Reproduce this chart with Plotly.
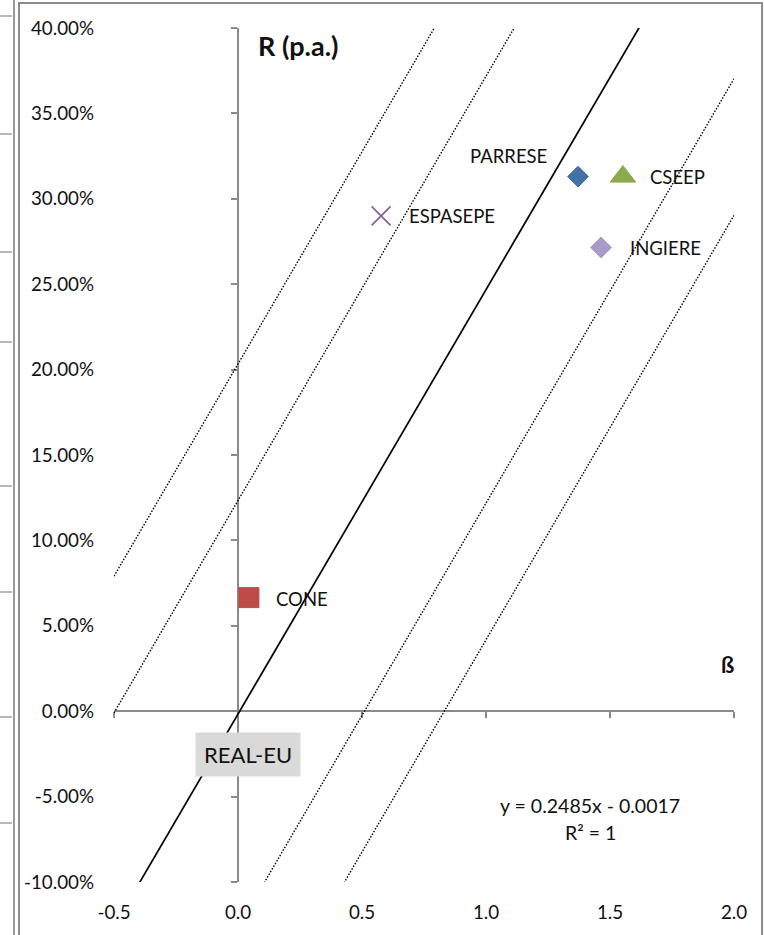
import plotly.graph_objects as go

# ---- data ----
names = ["PARRESE", "CSEEP", "INGIERE", "ESPASEPE", "CONE"]
betas = [1.371, 1.552, 1.464, 0.577, 0.044]
returns = [0.313, 0.313, 0.2715, 0.290, 0.0665]
symbols = ["diamond", "triangle-up", "diamond", "x-thin-open", "square"]
colors = ["#4472A8", "#8DAA4F", "#A99BC6", "#7E62A1", "#BE4B48"]
sizes = [16, 22, 16, 19, 20]
label_anchor = ["right", "left", "left", "left", "left"]
label_dx = [-29, 25, 27, 26, 25]
label_dy = [21, 0, -1, 0, -1]

sml_slope = 0.2485
sml_intercept = -0.0017
sml_beta_range = [-0.4, 1.62]
band_offsets = [0.205, 0.125, -0.125, -0.205]

market_label = "REAL-EU"
market_beta = 0.04
market_return = -0.0251

x_ticks = [-0.5, 0.0, 0.5, 1.0, 1.5, 2.0]
x_tick_labels = ["-0.5", "0.0", "0.5", "1.0", "1.5", "2.0"]
y_ticks = [-0.10, -0.05, 0.0, 0.05, 0.10, 0.15, 0.20, 0.25, 0.30, 0.35, 0.40]
y_tick_labels = ["-10.00%", "-5.00%", "0.00%", "5.00%", "10.00%", "15.00%",
                 "20.00%", "25.00%", "30.00%", "35.00%", "40.00%"]
equation_lines = ["y = 0.2485x - 0.0017", "R² = 1"]

FONT = "Lato"
TXT = "#111111"
x_range = [-0.5, 2.0]
y_range = [-0.10, 0.40]

fig = go.Figure()

# parallel dotted bands
for off in band_offsets:
    xs = list(x_range)
    ys = [sml_slope * b + sml_intercept + off for b in xs]
    fig.add_trace(go.Scatter(x=xs, y=ys, mode="lines",
                             line=dict(color="black", width=1.4, dash="1.5px,1.6px"),
                             hoverinfo="skip", showlegend=False))

# SML
xs = list(sml_beta_range)
fig.add_trace(go.Scatter(x=xs, y=[sml_slope * b + sml_intercept for b in xs],
                         mode="lines", line=dict(color="black", width=1.7),
                         hoverinfo="skip", showlegend=False))

# points
for n, b, r, s, c, sz in zip(names, betas, returns, symbols, colors, sizes):
    lw = 1.7 if s.endswith("open") else 1
    mk = dict(symbol=s, size=sz, color=c, line=dict(color=c, width=lw))
    fig.add_trace(go.Scatter(x=[b], y=[r], mode="markers", marker=mk,
                             name=n, showlegend=False))

# invisible trace to activate the crossing axes
fig.add_trace(go.Scatter(x=[0], y=[0], xaxis="x2", yaxis="y2", mode="markers",
                         marker=dict(opacity=0), hoverinfo="skip", showlegend=False))

annotations = []
for n, b, r, a, dx, dy in zip(names, betas, returns, label_anchor, label_dx, label_dy):
    annotations.append(dict(x=b, y=r, text=n, showarrow=False, xanchor=a,
                            yanchor="middle", xshift=dx, yshift=dy,
                            font=dict(family=FONT, size=18.5, color=TXT)))
annotations.append(dict(x=market_beta, y=market_return, text=market_label,
                        showarrow=False, bgcolor="#D9D9D9", borderpad=8,
                        xanchor="center", yanchor="middle",
                        font=dict(family=FONT, size=22, color=TXT)))
annotations.append(dict(xref="paper", yref="paper", x=0.298, y=0.980,
                        xanchor="center", yanchor="middle",
                        text="<b>R (p.a.)</b>", showarrow=False,
                        font=dict(family=FONT, size=27, color=TXT)))
annotations.append(dict(xref="paper", yref="paper", x=0.990, y=0.255,
                        xanchor="center", yanchor="middle",
                        text="<b>ß</b>", showarrow=False,
                        font=dict(family=FONT, size=22, color=TXT)))
annotations.append(dict(xref="paper", yref="paper", x=0.768, y=0.089,
                        xanchor="center", yanchor="middle",
                        text=equation_lines[0], showarrow=False,
                        font=dict(family=FONT, size=19.5, color=TXT)))
annotations.append(dict(xref="paper", yref="paper", x=0.768, y=0.0585,
                        xanchor="center", yanchor="middle",
                        text=equation_lines[1], showarrow=False,
                        font=dict(family=FONT, size=19.5, color=TXT)))

# chart frame decoration (paper coords)
shapes = [
    dict(type="line", xref="paper", yref="paper", x0=-0.1613, x1=-0.1613,
         y0=-0.08, y1=1.04, line=dict(color="#9A9A9A", width=2)),
    dict(type="rect", xref="paper", yref="paper", x0=-0.1532, x1=1.0452,
         y0=-0.08, y1=1.0293, line=dict(color="#8C8C8C", width=2)),
]
for py in [16, 134, 252, 342, 486, 592, 717, 823]:
    yp = (882 - py) / 854
    shapes.append(dict(type="line", xref="paper", yref="paper", x0=-0.1839,
                       x1=-0.1645, y0=yp, y1=yp,
                       line=dict(color="#A0A0A0", width=1.5)))

fig.update_layout(
    width=764, height=935,
    margin=dict(l=114, r=30, t=28, b=53),
    paper_bgcolor="white", plot_bgcolor="white",
    font=dict(family=FONT, size=18.8, color=TXT),
    xaxis=dict(range=x_range, domain=[0, 1], tickvals=x_ticks,
               ticktext=x_tick_labels, showgrid=False, zeroline=False,
               showline=False, ticks="", ticklabelstandoff=17,
               tickfont=dict(family=FONT, size=18.8, color=TXT)),
    yaxis=dict(range=y_range, domain=[0, 1], tickvals=y_ticks,
               ticktext=y_tick_labels, showgrid=False, zeroline=False,
               showline=False, ticks="", ticklabelstandoff=19,
               tickfont=dict(family=FONT, size=18.8, color=TXT)),
    xaxis2=dict(range=x_range, overlaying="x", anchor="free", position=0.2,
                tickvals=x_ticks, showticklabels=False, showgrid=False,
                zeroline=False, showline=True, linecolor="#8A8A8A",
                linewidth=2, ticks="outside", ticklen=6, tickcolor="#8A8A8A",
                tickwidth=2, layer="below traces"),
    yaxis2=dict(range=y_range, overlaying="y", anchor="free", position=0.2,
                tickvals=y_ticks, showticklabels=False, showgrid=False,
                zeroline=False, showline=True, linecolor="#8A8A8A",
                linewidth=2, ticks="outside", ticklen=6, tickcolor="#8A8A8A",
                tickwidth=2, layer="below traces"),
    annotations=annotations,
    shapes=shapes,
    showlegend=False,
)

fig.write_html("out.html", config={"displayModeBar": False},
               post_script="document.body.style.margin='0';document.body.style.overflow='hidden';")
